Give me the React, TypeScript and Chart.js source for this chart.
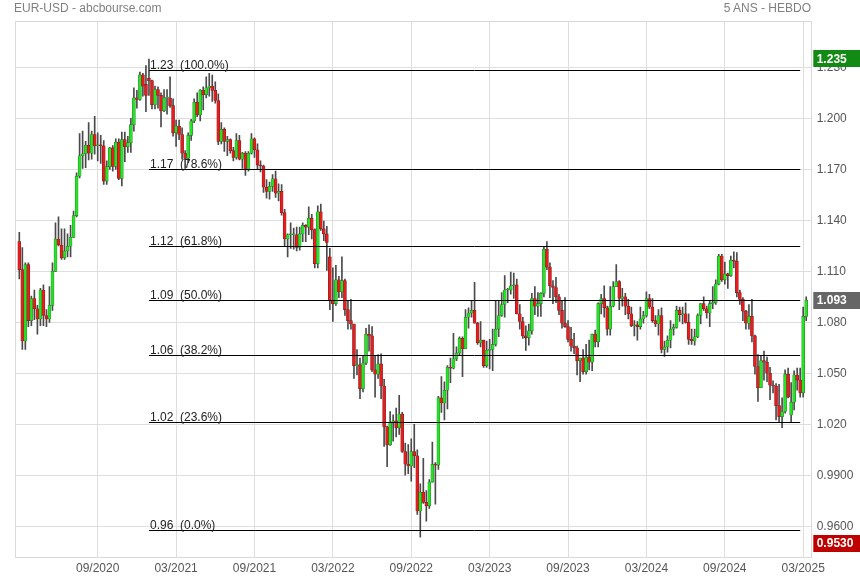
import React, { useEffect, useRef } from "react";
import { Chart, registerables } from "chart.js";

Chart.register(...registerables);

// Weekly EUR/USD candles, week of 09/03/2020 (index 0) to week of 10/03/2025 (index 261)
const OPEN = [
  1.1275, 1.1110, 1.0690, 1.1140, 1.0810, 1.0940, 1.0880, 1.0820, 1.0990, 1.0840,
  1.0820, 1.0900, 1.1100, 1.1290, 1.1255, 1.1180, 1.1220, 1.1248, 1.1300, 1.1428,
  1.1660, 1.1780, 1.1792, 1.1842, 1.1795, 1.1905, 1.1838, 1.1845, 1.1838, 1.1631,
  1.1716, 1.1826, 1.1717, 1.1860, 1.1647, 1.1875, 1.1833, 1.1857, 1.1963, 1.2121,
  1.2111, 1.2256, 1.2200, 1.2235, 1.2222, 1.2080, 1.2170, 1.2135, 1.2045, 1.2120,
  1.2120, 1.2075, 1.1915, 1.1955, 1.1905, 1.1795, 1.1765, 1.1900, 1.1985, 1.2095,
  1.2020, 1.2165, 1.2140, 1.2180, 1.2190, 1.2165, 1.2105, 1.1865, 1.1935, 1.1865,
  1.1875, 1.1810, 1.1770, 1.1870, 1.1760, 1.1795, 1.1700, 1.1795, 1.1880, 1.1815,
  1.1725, 1.1720, 1.1595, 1.1570, 1.1600, 1.1645, 1.1560, 1.1570, 1.1445, 1.1290,
  1.1315, 1.1315, 1.1315, 1.1240, 1.1320, 1.1370, 1.1360, 1.1413, 1.1345, 1.1145,
  1.1450, 1.1350, 1.1320, 1.1185, 1.0930, 1.0910, 1.1050, 1.0980, 1.1045, 1.0875,
  1.0810, 1.0790, 1.0545, 1.0550, 1.0410, 1.0560, 1.0730, 1.0720, 1.0520, 1.0495,
  1.0555, 1.0425, 1.0185, 1.0080, 1.0210, 1.0220, 1.0180, 1.0260, 1.0040, 0.9965,
  0.9955, 1.0040, 1.0015, 0.9690, 0.9800, 0.9740, 0.9720, 0.9860, 0.9965, 0.9960,
  1.0355, 1.0325, 1.0400, 1.0535, 1.0530, 1.0585, 1.0620, 1.0705, 1.0645, 1.0830,
  1.0855, 1.0870, 1.0795, 1.0680, 1.0695, 1.0545, 1.0635, 1.0640, 1.0670, 1.0760,
  1.0840, 1.0905, 1.0990, 1.0990, 1.1015, 1.1020, 1.0850, 1.0805, 1.0720, 1.0710,
  1.0750, 1.0940, 1.0895, 1.0910, 1.0970, 1.1230, 1.1125, 1.1015, 1.1005, 1.0950,
  1.0870, 1.0795, 1.0775, 1.0700, 1.0660, 1.0650, 1.0575, 1.0590, 1.0510, 1.0595,
  1.0565, 1.0730, 1.0685, 1.0910, 1.0940, 1.0885, 1.0760, 1.0895, 1.1010, 1.1040,
  1.0940, 1.0950, 1.0895, 1.0850, 1.0780, 1.0785, 1.0775, 1.0820, 1.0840, 1.0940,
  1.0890, 1.0810, 1.0790, 1.0840, 1.0640, 1.0655, 1.0695, 1.0760, 1.0770, 1.0870,
  1.0845, 1.0850, 1.0800, 1.0700, 1.0690, 1.0715, 1.0840, 1.0910, 1.0880, 1.0855,
  1.0910, 1.0915, 1.1025, 1.1190, 1.1050, 1.1085, 1.1075, 1.1165, 1.1160, 1.0975,
  1.0935, 1.0865, 1.0795, 1.0835, 1.0720, 1.0540, 1.0415, 1.0575, 1.0565, 1.0500,
  1.0430, 1.0425, 1.0310, 1.0245, 1.0275, 1.0495, 1.0255, 1.0330, 1.0490, 1.0460,
  1.0385, 1.0835,
];

const HIGH = [
  1.1330, 1.1240, 1.1150, 1.1150, 1.0955, 1.0990, 1.0900, 1.1000, 1.1020, 1.0875,
  1.1010, 1.1150, 1.1385, 1.1420, 1.1350, 1.1350, 1.1320, 1.1370, 1.1455, 1.1680,
  1.1910, 1.1925, 1.1865, 1.1975, 1.1925, 1.2012, 1.1915, 1.1900, 1.1870, 1.1750,
  1.1830, 1.1840, 1.1880, 1.1880, 1.1920, 1.1920, 1.1895, 1.2000, 1.2180, 1.2165,
  1.2273, 1.2265, 1.2310, 1.2349, 1.2225, 1.2190, 1.2185, 1.2150, 1.2170, 1.2170,
  1.2245, 1.2115, 1.1990, 1.1990, 1.1945, 1.1810, 1.1915, 1.1995, 1.2115, 1.2150,
  1.2170, 1.2185, 1.2245, 1.2265, 1.2255, 1.2215, 1.2145, 1.1975, 1.1945, 1.1895,
  1.1880, 1.1830, 1.1910, 1.1900, 1.1800, 1.1805, 1.1805, 1.1910, 1.1885, 1.1850,
  1.1750, 1.1725, 1.1640, 1.1625, 1.1670, 1.1690, 1.1615, 1.1610, 1.1465, 1.1320,
  1.1385, 1.1355, 1.1360, 1.1360, 1.1385, 1.1375, 1.1480, 1.1435, 1.1350, 1.1485,
  1.1495, 1.1395, 1.1365, 1.1235, 1.1120, 1.1135, 1.1070, 1.1185, 1.1055, 1.0925,
  1.0935, 1.0790, 1.0640, 1.0590, 1.0605, 1.0765, 1.0785, 1.0775, 1.0600, 1.0610,
  1.0615, 1.0465, 1.0190, 1.0275, 1.0255, 1.0295, 1.0370, 1.0270, 1.0090, 1.0080,
  1.0115, 1.0200, 1.0050, 0.9850, 0.9999, 0.9810, 0.9875, 1.0095, 0.9975, 1.0365,
  1.0480, 1.0450, 1.0545, 1.0590, 1.0735, 1.0655, 1.0715, 1.0715, 1.0875, 1.0885,
  1.0930, 1.1035, 1.0800, 1.0805, 1.0695, 1.0690, 1.0700, 1.0760, 1.0930, 1.0925,
  1.0975, 1.1075, 1.1000, 1.1095, 1.1090, 1.1055, 1.0905, 1.0830, 1.0780, 1.0790,
  1.0970, 1.1010, 1.0975, 1.0975, 1.1245, 1.1275, 1.1150, 1.1045, 1.1065, 1.0965,
  1.0930, 1.0945, 1.0810, 1.0770, 1.0735, 1.0660, 1.0590, 1.0640, 1.0670, 1.0695,
  1.0730, 1.0755, 1.0915, 1.0965, 1.1015, 1.0895, 1.1010, 1.1040, 1.1140, 1.1045,
  1.1000, 1.0970, 1.0935, 1.0890, 1.0810, 1.0805, 1.0890, 1.0865, 1.0980, 1.0965,
  1.0940, 1.0840, 1.0875, 1.0885, 1.0690, 1.0720, 1.0810, 1.0790, 1.0895, 1.0890,
  1.0890, 1.0915, 1.0850, 1.0760, 1.0760, 1.0850, 1.0910, 1.0950, 1.0895, 1.0925,
  1.1010, 1.1050, 1.1200, 1.1200, 1.1155, 1.1090, 1.1190, 1.1215, 1.1210, 1.0990,
  1.0945, 1.0870, 1.0905, 1.0935, 1.0725, 1.0610, 1.0600, 1.0630, 1.0595, 1.0535,
  1.0455, 1.0440, 1.0435, 1.0355, 1.0520, 1.0530, 1.0445, 1.0515, 1.0530, 1.0530,
  1.0890, 1.0950,
];

const LOW = [
  1.1055, 1.0640, 1.0640, 1.0775, 1.0780, 1.0815, 1.0730, 1.0780, 1.0780, 1.0775,
  1.0800, 1.0870, 1.1100, 1.1250, 1.1170, 1.1170, 1.1185, 1.1185, 1.1300, 1.1420,
  1.1650, 1.1705, 1.1710, 1.1755, 1.1760, 1.1790, 1.1750, 1.1735, 1.1612, 1.1612,
  1.1700, 1.1690, 1.1700, 1.1640, 1.1603, 1.1745, 1.1800, 1.1800, 1.1925, 1.2060,
  1.2105, 1.2130, 1.2040, 1.2135, 1.2055, 1.2055, 1.2060, 1.1950, 1.2040, 1.2025,
  1.2065, 1.1895, 1.1835, 1.1875, 1.1760, 1.1705, 1.1740, 1.1870, 1.1975, 1.2010,
  1.1985, 1.2050, 1.2120, 1.2130, 1.2100, 1.2090, 1.1845, 1.1850, 1.1805, 1.1780,
  1.1795, 1.1750, 1.1760, 1.1755, 1.1705, 1.1665, 1.1690, 1.1790, 1.1770, 1.1700,
  1.1685, 1.1565, 1.1530, 1.1525, 1.1570, 1.1535, 1.1515, 1.1430, 1.1250, 1.1185,
  1.1235, 1.1230, 1.1220, 1.1225, 1.1275, 1.1275, 1.1315, 1.1290, 1.1120, 1.1120,
  1.1340, 1.1280, 1.1105, 1.0875, 1.0805, 1.0900, 1.0945, 1.0945, 1.0840, 1.0760,
  1.0760, 1.0470, 1.0490, 1.0350, 1.0390, 1.0550, 1.0630, 1.0510, 1.0360, 1.0470,
  1.0350, 1.0070, 0.9950, 1.0075, 1.0100, 1.0125, 1.0140, 1.0035, 0.9900, 0.9910,
  0.9865, 0.9945, 0.9670, 0.9535, 0.9735, 0.9630, 0.9705, 0.9860, 0.9730, 0.9935,
  1.0270, 1.0225, 1.0290, 1.0445, 1.0525, 1.0575, 1.0610, 1.0480, 1.0645, 1.0765,
  1.0830, 1.0795, 1.0670, 1.0655, 1.0535, 1.0535, 1.0525, 1.0515, 1.0660, 1.0715,
  1.0835, 1.0830, 1.0915, 1.0965, 1.0940, 1.0850, 1.0760, 1.0705, 1.0635, 1.0665,
  1.0730, 1.0845, 1.0835, 1.0835, 1.0950, 1.1110, 1.0945, 1.0910, 1.0915, 1.0845,
  1.0765, 1.0770, 1.0685, 1.0630, 1.0615, 1.0490, 1.0450, 1.0495, 1.0495, 1.0520,
  1.0515, 1.0655, 1.0655, 1.0850, 1.0830, 1.0725, 1.0725, 1.0890, 1.1010, 1.0875,
  1.0895, 1.0845, 1.0820, 1.0775, 1.0720, 1.0695, 1.0760, 1.0795, 1.0830, 1.0880,
  1.0800, 1.0775, 1.0725, 1.0620, 1.0600, 1.0625, 1.0650, 1.0725, 1.0765, 1.0805,
  1.0790, 1.0795, 1.0670, 1.0670, 1.0665, 1.0710, 1.0790, 1.0870, 1.0825, 1.0775,
  1.0880, 1.0905, 1.1020, 1.1040, 1.1025, 1.1000, 1.1070, 1.1120, 1.0950, 1.0905,
  1.0810, 1.0760, 1.0760, 1.0685, 1.0495, 1.0335, 1.0420, 1.0460, 1.0450, 1.0345,
  1.0385, 1.0225, 1.0215, 1.0180, 1.0265, 1.0355, 1.0210, 1.0285, 1.0400, 1.0360,
  1.0360, 1.0810,
];

const CLOSE = [
  1.1110, 1.0690, 1.1140, 1.0810, 1.0940, 1.0880, 1.0820, 1.0990, 1.0840, 1.0820,
  1.0900, 1.1100, 1.1290, 1.1255, 1.1180, 1.1220, 1.1248, 1.1300, 1.1428, 1.1660,
  1.1780, 1.1792, 1.1842, 1.1795, 1.1905, 1.1838, 1.1845, 1.1838, 1.1631, 1.1716,
  1.1826, 1.1717, 1.1860, 1.1647, 1.1875, 1.1833, 1.1857, 1.1963, 1.2121, 1.2111,
  1.2256, 1.2190, 1.2135, 1.2222, 1.2080, 1.2170, 1.2135, 1.2045, 1.2120, 1.2120,
  1.2075, 1.1915, 1.1955, 1.1905, 1.1795, 1.1765, 1.1900, 1.1985, 1.2095, 1.2020,
  1.2165, 1.2140, 1.2180, 1.2190, 1.2165, 1.2105, 1.1865, 1.1935, 1.1865, 1.1875,
  1.1810, 1.1770, 1.1870, 1.1760, 1.1795, 1.1700, 1.1795, 1.1880, 1.1815, 1.1725,
  1.1720, 1.1595, 1.1570, 1.1600, 1.1645, 1.1560, 1.1570, 1.1445, 1.1290, 1.1315,
  1.1315, 1.1315, 1.1240, 1.1320, 1.1370, 1.1360, 1.1413, 1.1345, 1.1145, 1.1450,
  1.1350, 1.1320, 1.1270, 1.0930, 1.0910, 1.1050, 1.0980, 1.1045, 1.0875, 1.0810,
  1.0790, 1.0545, 1.0550, 1.0410, 1.0560, 1.0730, 1.0720, 1.0520, 1.0495, 1.0555,
  1.0425, 1.0185, 1.0080, 1.0210, 1.0220, 1.0180, 1.0260, 1.0040, 0.9965, 0.9955,
  1.0040, 1.0015, 0.9690, 0.9800, 0.9740, 0.9720, 0.9860, 0.9965, 0.9960, 1.0355,
  1.0325, 1.0400, 1.0535, 1.0530, 1.0585, 1.0620, 1.0705, 1.0645, 1.0830, 1.0855,
  1.0870, 1.0795, 1.0680, 1.0695, 1.0545, 1.0635, 1.0640, 1.0670, 1.0760, 1.0840,
  1.0905, 1.0990, 1.0990, 1.1015, 1.1020, 1.0850, 1.0805, 1.0720, 1.0710, 1.0750,
  1.0940, 1.0895, 1.0910, 1.0970, 1.1230, 1.1125, 1.1015, 1.1005, 1.0950, 1.0870,
  1.0795, 1.0775, 1.0700, 1.0660, 1.0650, 1.0575, 1.0590, 1.0510, 1.0595, 1.0565,
  1.0730, 1.0685, 1.0910, 1.0940, 1.0885, 1.0760, 1.0895, 1.1010, 1.1040, 1.0940,
  1.0950, 1.0895, 1.0850, 1.0780, 1.0785, 1.0775, 1.0820, 1.0840, 1.0940, 1.0890,
  1.0810, 1.0790, 1.0840, 1.0640, 1.0655, 1.0695, 1.0760, 1.0770, 1.0870, 1.0845,
  1.0850, 1.0800, 1.0700, 1.0690, 1.0715, 1.0840, 1.0910, 1.0880, 1.0855, 1.0910,
  1.0915, 1.1025, 1.1190, 1.1050, 1.1085, 1.1075, 1.1165, 1.1160, 1.0975, 1.0935,
  1.0865, 1.0795, 1.0835, 1.0720, 1.0540, 1.0415, 1.0575, 1.0565, 1.0500, 1.0430,
  1.0425, 1.0310, 1.0245, 1.0275, 1.0495, 1.0360, 1.0330, 1.0490, 1.0460, 1.0385,
  1.0835, 1.0930,
];

const X_TICK_INDEX = [26, 52, 78, 104, 130, 156, 182, 208, 234, 260];
const X_TICK_LABELS = ["09/2020", "03/2021", "09/2021", "03/2022", "09/2022", "03/2023", "09/2023", "03/2024", "09/2024", "03/2025"];
const Y_TICKS = [0.96, 0.99, 1.02, 1.05, 1.08, 1.11, 1.14, 1.17, 1.2, 1.23];
const Y_TICK_LABELS = ["0.9600", "0.9900", "1.020", "1.050", "1.080", "1.110", "1.140", "1.170", "1.200", "1.230"];

const FIB_HIGH = 1.2282;
const FIB_LOW = 0.9576;
const FIB_LEVELS = [1, 0.786, 0.618, 0.5, 0.382, 0.236, 0];
const FIB_FROM = 43;
const FIB_TO = 259;

const TAG_VALUES = [1.235, 1.093, 0.953];
const TAG_LABELS = ["1.235", "1.093", "0.9530"];
const TAG_COLORS = ["#138a13", "#666666", "#bf0000"];

const FONT = "'Liberation Sans', Arial, Helvetica, sans-serif";

const overlayPlugin = {
  id: "overlay",
  beforeDatasetsDraw(chart: any) {
    const { ctx, chartArea: a } = chart;
    ctx.save();
    ctx.strokeStyle = "#d9d9d9";
    ctx.lineWidth = 1;
    const l = Math.round(a.left) + 0.5;
    const t = Math.round(a.top) + 0.5;
    ctx.strokeRect(l, t, Math.round(a.right) - Math.round(a.left), Math.round(a.bottom) - Math.round(a.top));
    ctx.restore();
  },
  afterDatasetsDraw(chart: any) {
    const { ctx } = chart;
    const x = chart.scales.x;
    const y = chart.scales.y;
    const x0 = x.getPixelForValue(FIB_FROM);
    const x1 = x.getPixelForValue(FIB_TO);
    ctx.save();
    ctx.font = `12px ${FONT}`;
    ctx.textAlign = "left";
    ctx.textBaseline = "alphabetic";
    FIB_LEVELS.forEach((lvl) => {
      const v = FIB_LOW + (FIB_HIGH - FIB_LOW) * lvl;
      const py = Math.round(y.getPixelForValue(v)) + 0.5;
      ctx.strokeStyle = "#000000";
      ctx.lineWidth = 1;
      ctx.beginPath();
      ctx.moveTo(x0, py);
      ctx.lineTo(x1, py);
      ctx.stroke();
      ctx.fillStyle = "#222222";
      ctx.fillText(`${v.toFixed(2)}  (${(lvl * 100).toFixed(1)}%)`, x0 + 1, py - 1.5);
    });
    ctx.restore();
  },
  afterDraw(chart: any) {
    const { ctx, chartArea: a } = chart;
    const y = chart.scales.y;
    const shifts = [0, 0, 5];
    ctx.save();
    TAG_VALUES.forEach((v, k) => {
      const cy = y.getPixelForValue(v) + shifts[k];
      const left = a.right + 2.6;
      ctx.fillStyle = TAG_COLORS[k];
      ctx.fillRect(left, Math.round(cy - 8.5), chart.width - left, 17);
      ctx.fillStyle = "#ffffff";
      ctx.font = `bold 12px ${FONT}`;
      ctx.textAlign = "left";
      ctx.textBaseline = "middle";
      ctx.fillText(TAG_LABELS[k], a.right + 6, Math.round(cy) + 0.5);
    });
    ctx.restore();
  },
};

export default function App() {
  const ref = useRef<HTMLCanvasElement>(null);

  useEffect(() => {
    const canvas = ref.current;
    if (!canvas) return;
    const up = OPEN.map((o, i) => CLOSE[i] >= o);
    const chart = new Chart(canvas, {
      type: "bar",
      data: {
        datasets: [
          {
            label: "body",
            data: OPEN.map((o, i) => ({ x: i, y: [o, CLOSE[i]] })) as any,
            backgroundColor: up.map((u) => (u ? "#22e622" : "#e81c1c")),
            borderColor: up.map((u) => (u ? "#2f7f2f" : "#7f1f1f")),
            borderWidth: 0.6,
            borderSkipped: false,
            barThickness: 3,
            minBarLength: 1,
            grouped: false,
            order: 0,
          } as any,
          {
            label: "wick",
            data: LOW.map((l, i) => ({ x: i, y: [l, HIGH[i]] })) as any,
            backgroundColor: "#4a4a4a",
            borderWidth: 0,
            barThickness: 1,
            grouped: false,
            order: 1,
          } as any,
        ],
      },
      options: {
        responsive: false,
        animation: false,
        devicePixelRatio: 1,
        layout: { padding: { left: 15, top: 21, right: 0, bottom: 0 } },
        plugins: { legend: { display: false }, tooltip: { enabled: false } },
        scales: {
          x: {
            type: "linear",
            min: -1.43,
            max: 262.49,
            offset: false,
            grid: { offset: false, color: "#dedede", lineWidth: 1, drawTicks: false },
            border: { display: false },
            ticks: {
              autoSkip: false,
              maxRotation: 0,
              minRotation: 0,
              padding: 4,
              color: "#555555",
              font: { family: FONT, size: 12 },
              callback: (_v: any, i: number) => X_TICK_LABELS[i] ?? "",
            },
            afterBuildTicks: (s: any) => {
              s.ticks = X_TICK_INDEX.map((v) => ({ value: v }));
            },
            afterFit: (s: any) => {
              s.height = 23;
            },
          },
          y: {
            type: "linear",
            position: "right",
            min: 0.9419,
            max: 1.2573,
            beginAtZero: false,
            grid: { color: "#dedede", lineWidth: 1, drawTicks: false },
            border: { display: false },
            ticks: {
              autoSkip: false,
              padding: 6,
              color: "#555555",
              font: { family: FONT, size: 12 },
              callback: (_v: any, i: number) => Y_TICK_LABELS[i] ?? "",
            },
            afterBuildTicks: (s: any) => {
              s.ticks = Y_TICKS.map((v) => ({ value: v }));
            },
            afterFit: (s: any) => {
              s.width = 49.3;
            },
          },
        },
      } as any,
      plugins: [overlayPlugin],
    });
    return () => chart.destroy();
  }, []);

  return (
    <div
      style={{
        position: "fixed",
        left: 0,
        top: 0,
        width: 860,
        height: 580,
        background: "#ffffff",
        fontFamily: FONT,
      }}
    >
      <canvas
        ref={ref}
        width={860}
        height={580}
        style={{ position: "absolute", left: 0, top: 0, width: 860, height: 580 }}
      />
      <div style={{ position: "absolute", left: 14, top: 1, fontSize: 12, lineHeight: "14px", color: "#808080", whiteSpace: "nowrap" }}>
        EUR-USD - abcbourse.com
      </div>
      <div style={{ position: "absolute", right: 49, top: 1, fontSize: 12, lineHeight: "14px", color: "#808080", whiteSpace: "nowrap" }}>
        5 ANS - HEBDO
      </div>
    </div>
  );
}
